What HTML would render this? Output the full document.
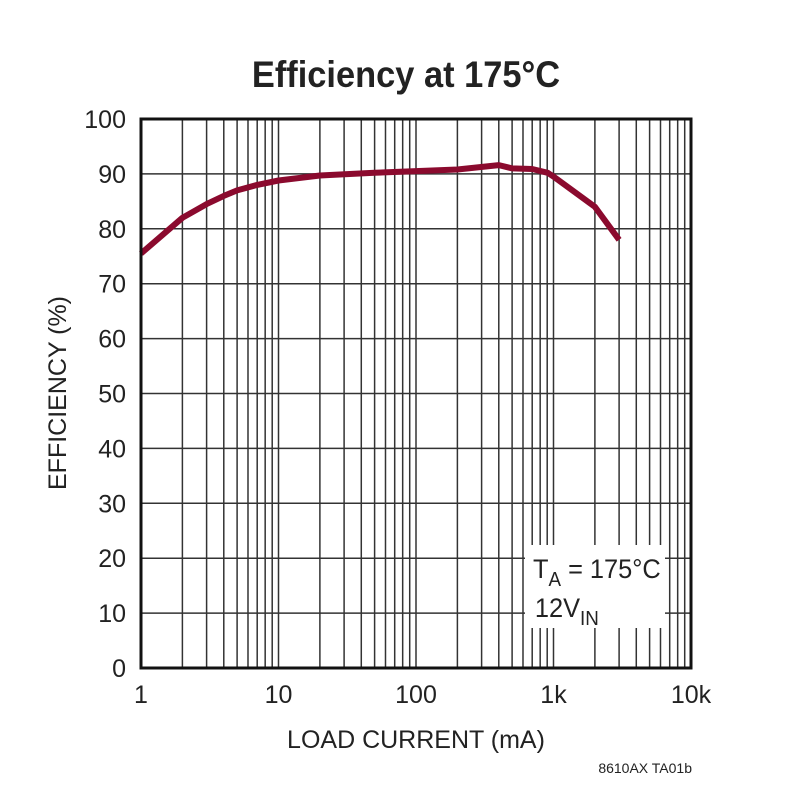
<!DOCTYPE html>
<html><head><meta charset="utf-8"><style>
body{margin:0;background:#fff;}
svg text{font-family:"Liberation Sans",sans-serif;fill:#222;}
</style></head><body>
<svg id="s" width="785" height="800" xmlns="http://www.w3.org/2000/svg">
<rect width="785" height="800" fill="#fff"/>
<g id="grid" stroke="#333" stroke-width="1.5"></g>
<rect x="525" y="545" width="140" height="83" fill="#fff"/>
<polyline fill="none" stroke="#8b0a2e" stroke-width="6" stroke-linejoin="round" points="141,253.5 182.4,217.8 206.6,204.1 223.8,195.9 237.1,190.4 257.2,184.9 278.5,180.5 319.9,175.5 374.6,172.8 416,171.1 457.4,169.5 498.8,165.1 512.1,168.4 532.2,169 547.7,172.8 553.5,176.6 594.9,206.8 619.1,239.8"/>
<rect x="141" y="119" width="550" height="549" fill="none" stroke="#111" stroke-width="3"/>
<text x="406" y="87" font-size="37" font-weight="bold" text-anchor="middle" transform="translate(406 0) scale(0.93 1) translate(-406 0)">Efficiency at 175°C</text>
<g id="yl" font-size="25" text-anchor="end"></g>
<g id="xl" font-size="25" text-anchor="middle"></g>
<text x="416" y="748" font-size="25" text-anchor="middle">LOAD CURRENT (mA)</text>
<text transform="translate(66 393) rotate(-90)" font-size="25" text-anchor="middle">EFFICIENCY (%)</text>
<g transform="translate(533 0) scale(0.94 1) translate(-533 0)">
<text x="533" y="578" font-size="27">T<tspan font-size="20" dy="8">A</tspan><tspan dy="-8"> = 175°C</tspan></text>
<text x="535" y="617" font-size="27">12V<tspan font-size="20" dy="8">IN</tspan></text>
</g>
<text x="692" y="773" font-size="14" text-anchor="end">8610AX TA01b</text>
</svg>
<script>
var ns="http://www.w3.org/2000/svg",g=document.getElementById("grid");
function L(x1,y1,x2,y2){var l=document.createElementNS(ns,"line");l.setAttribute("x1",x1);l.setAttribute("y1",y1);l.setAttribute("x2",x2);l.setAttribute("y2",y2);g.appendChild(l);}
for(var d=0;d<4;d++)for(var m=1;m<=9;m++){var x=141+137.5*(d+Math.log10(m));L(x,119,x,668);}
var yl=document.getElementById("yl"),xl=document.getElementById("xl");
for(var i=0;i<=10;i++){var y=668-54.9*i;L(141,y,691,y);var t=document.createElementNS(ns,"text");t.setAttribute("x",126);t.setAttribute("y",y+9);t.textContent=i*10;yl.appendChild(t);}
["1","10","100","1k","10k"].forEach(function(s,i){var t=document.createElementNS(ns,"text");t.setAttribute("x",141+137.5*i);t.setAttribute("y",703);t.textContent=s;xl.appendChild(t);});
</script>
</body></html>
